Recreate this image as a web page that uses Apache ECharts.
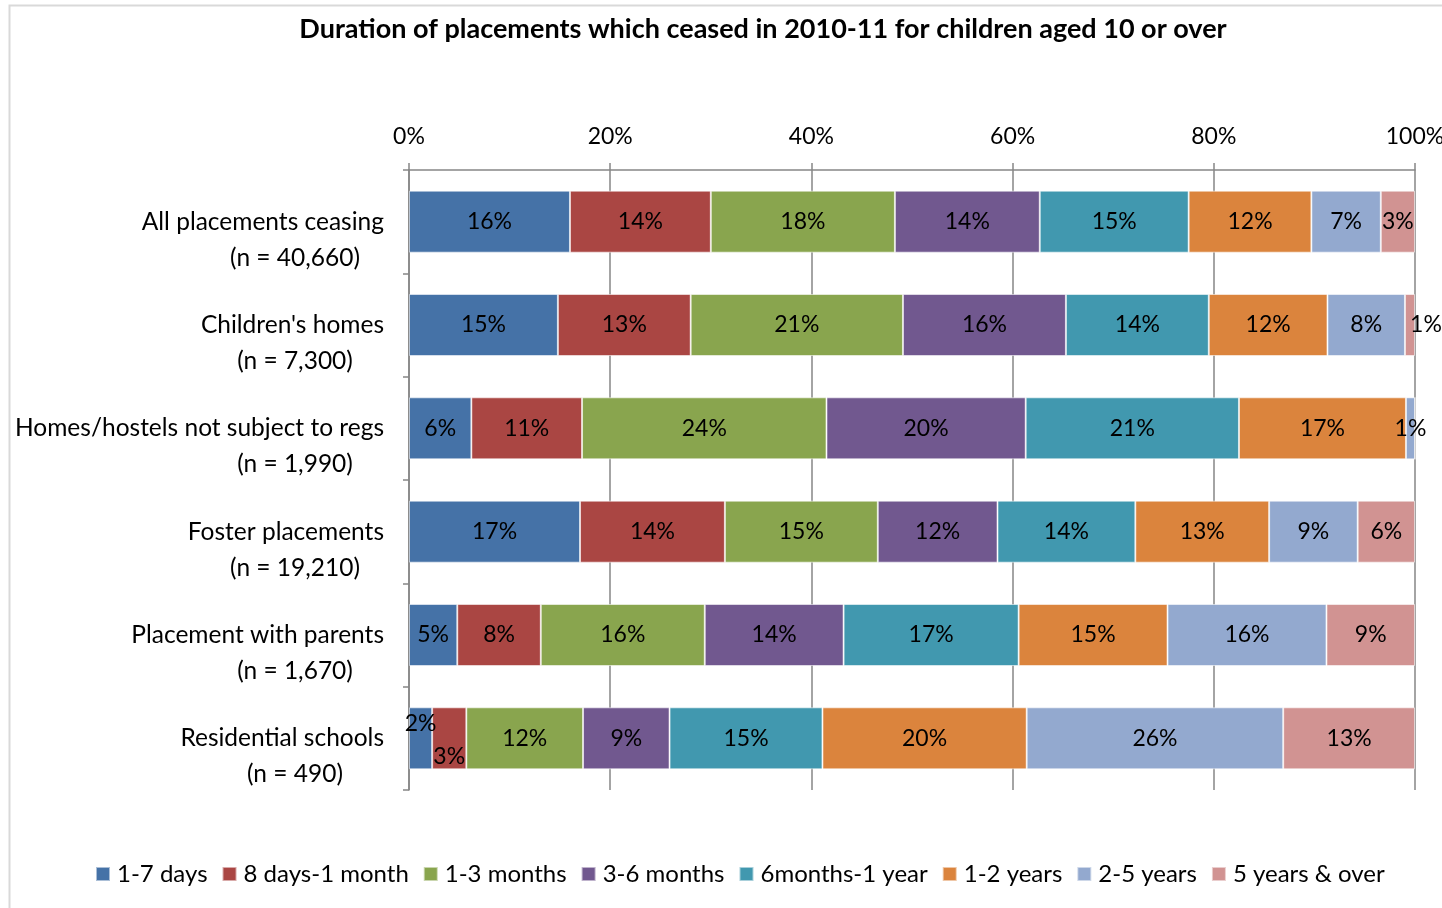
<!DOCTYPE html>
<html>
<head>
<meta charset="utf-8">
<title>Duration of placements</title>
<script src="https://cdn.jsdelivr.net/npm/echarts@6/dist/echarts.min.js"></script>
<style>
  html, body { margin: 0; padding: 0; background: #fff; }
  #chart { width: 1442px; height: 908px; }
</style>
</head>
<body>
<div id="chart"></div>
<script>
// categories (top to bottom) and their counts
const categories = [
  'All placements ceasing',
  "Children's homes",
  'Homes/hostels not subject to regs',
  'Foster placements',
  'Placement with parents',
  'Residential schools',
]
const counts = ['(n = 40,660)', '(n = 7,300)', '(n = 1,990)', '(n = 19,210)', '(n = 1,670)', '(n = 490)']

const seriesNames = [
  '1-7 days', '8 days-1 month', '1-3 months', '3-6 months',
  '6months-1 year', '1-2 years', '2-5 years', '5 years & over',
]
const colors = ['#4572A7', '#AA4643', '#89A54E', '#71588F', '#4198AF', '#DB843D', '#93A9CF', '#D19392']

// percentage of each category, one array per duration band
const days1to7     = [16.0, 14.8, 6.2, 17.0, 4.8, 2.3]
const days8toMonth = [14.0, 13.2, 11.0, 14.4, 8.3, 3.4]
const months1to3   = [18.3, 21.1, 24.3, 15.2, 16.3, 11.6]
const months3to6   = [14.4, 16.2, 19.8, 11.9, 13.8, 8.6]
const months6toYr  = [14.8, 14.2, 21.2, 13.7, 17.4, 15.2]
const years1to2    = [12.2, 11.8, 16.6, 13.3, 14.8, 20.3]
const years2to5    = [6.9, 7.7, 0.9, 8.8, 15.8, 25.5]
const years5plus   = [3.4, 1.0, 0, 5.7, 8.8, 13.1]

const seriesValues = [days1to7, days8toMonth, months1to3, months3to6, months6toYr, years1to2, years2to5, years5plus]

// xAxis ticks
const xMin = 0
const xMax = 100
const xStep = 20

// a few labels were nudged off their segment in the original
const labelNudges = {
  '0-5': [0, -15],
  '1-5': [0, 18],
  '7-1': [16, 0],
}

const FONT = 'Lato, "Open Sans", sans-serif'
const GREY = '#868686'

const chart = echarts.init(document.getElementById('chart'), null, { renderer: 'canvas' })

const series = seriesNames.map((name, si) => ({
  name,
  type: 'bar',
  stack: 'total',
  barCategoryGap: '40%',
  itemStyle: { color: colors[si], borderColor: 'rgba(255,255,255,0.55)', borderWidth: 1 },
  data: seriesValues[si].map((v, ci) => {
    const nudge = labelNudges[si + '-' + ci]
    const item = { value: v }
    if (nudge) item.label = { offset: nudge }
    return item
  }),
  label: {
    show: true,
    position: 'inside',
    color: '#000',
    fontFamily: FONT,
    fontSize: 23,
    formatter: p => (p.value > 0 ? Math.round(p.value) + '%' : ''),
  },
}))

chart.setOption({
  animation: false,
  color: colors,
  textStyle: { fontFamily: FONT },
  title: {
    text: 'Duration of placements which ceased in 2010-11 for children aged 10 or over',
    left: 758,
    top: 11,
    textAlign: 'center',
    textStyle: { fontFamily: FONT, fontSize: 27, fontWeight: 'bold', color: '#000' },
  },
  graphic: [{
    type: 'rect',
    shape: { x: 9.5, y: 5.5, width: 1460, height: 930 },
    style: { fill: 'none', stroke: '#d9d9d9', lineWidth: 2 },
    silent: true,
  }],
  legend: {
    bottom: 22,
    left: 95,
    padding: 0,
    itemWidth: 14,
    itemHeight: 14,
    itemGap: 14,
    icon: 'rect',
    textStyle: { fontFamily: FONT, fontSize: 24, color: '#000', padding: [0, 0, 0, 2] },
    data: seriesNames,
  },
  grid: {
    left: 409, right: 27, top: 170, bottom: 118,
    containLabel: false,
    outerBoundsMode: 'none',
  },
  xAxis: {
    type: 'value',
    position: 'top',
    min: xMin,
    max: xMax,
    interval: xStep,
    axisLine: { show: true, lineStyle: { color: GREY, width: 1.5 } },
    axisTick: { show: true, length: 7, lineStyle: { color: GREY, width: 1.5 } },
    splitLine: { show: true, lineStyle: { color: GREY, width: 1.5 } },
    axisLabel: {
      margin: 22,
      color: '#000',
      fontFamily: FONT,
      fontSize: 23,
      formatter: '{value}%',
    },
  },
  yAxis: {
    type: 'category',
    inverse: true,
    data: categories,
    axisLine: { show: true, lineStyle: { color: GREY, width: 1.5 } },
    axisTick: { show: true, length: 6, lineStyle: { color: GREY, width: 1.5 } },
    axisLabel: {
      margin: 25,
      align: 'right',
      padding: [36, 0, 0, 0],
      formatter: (v, i) => '{a|' + v + '}\n{s| }{b|' + counts[i] + '}',
      rich: {
        a: { fontFamily: FONT, fontSize: 24.5, color: '#000', lineHeight: 36, width: 380, align: 'right' },
        s: { fontSize: 24.5, lineHeight: 36, width: 202 },
        b: { fontFamily: FONT, fontSize: 24.5, color: '#000', lineHeight: 36, width: 178, align: 'center' },
      },
    },
  },
  series,
})

window.addEventListener('resize', () => chart.resize())
</script>
</body>
</html>
